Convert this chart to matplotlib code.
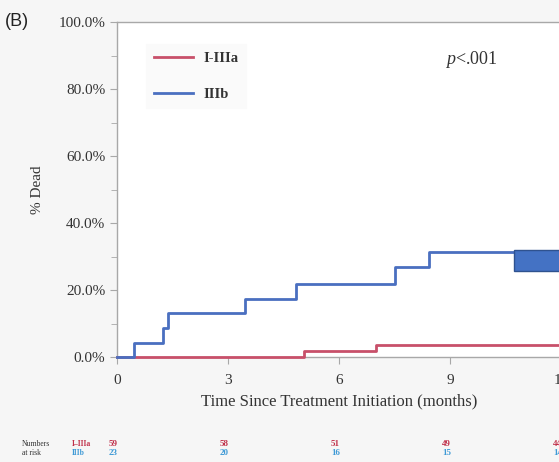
import matplotlib.pyplot as plt
import matplotlib.transforms as mtransforms
from matplotlib.patches import Rectangle
from matplotlib.ticker import MultipleLocator, FuncFormatter

plt.rcParams['font.family'] = ['Liberation Serif', 'DejaVu Serif']
plt.rcParams['mathtext.fontset'] = 'custom'
plt.rcParams['mathtext.it'] = 'Liberation Serif:italic'
plt.rcParams['mathtext.rm'] = 'Liberation Serif'

# Kaplan-Meier steps (months, % dead)
groups = ['I-IIIa', 'IIIb']
red_t = [0, 5.05, 7.0, 12]
red_v = [0, 1.7, 3.5, 3.5]
blue_t = [0, 0.46, 1.24, 1.38, 3.46, 4.84, 7.51, 8.43, 12]
blue_v = [0, 4.3, 8.7, 13.0, 17.4, 21.7, 26.8, 31.2, 31.2]

# numbers at risk
risk_months = [0, 3, 6, 9, 12]
risk_red = [59, 58, 51, 49, 44]
risk_blue = [23, 20, 16, 15, 14]

# the filled box at the right edge
box_x = [10.73, 12.3]
box_y = [25.8, 31.8]

red = '#c8506a'
blue = '#4a6fc0'
grey = '#a8a8a8'
txt = '#333333'

fig = plt.figure(figsize=(5.59, 4.62), dpi=100, facecolor='#f6f6f6')
ax = fig.add_axes([117 / 559, 105 / 462, 444 / 559, 335 / 462])
ax.set_facecolor('white')

ax.step(red_t, red_v, where='post', color=red, lw=2, label=groups[0], zorder=3, clip_on=False)
ax.step(blue_t, blue_v, where='post', color=blue, lw=2, label=groups[1], zorder=3, clip_on=False)
ax.add_patch(Rectangle((box_x[0], box_y[0]), box_x[1] - box_x[0], box_y[1] - box_y[0],
                       facecolor='#4472c4', edgecolor='#2f528f', lw=1, zorder=4))

ax.set_xlim(0, 12)
ax.set_ylim(0, 100)
ax.xaxis.set_major_locator(MultipleLocator(3))
ax.yaxis.set_major_locator(MultipleLocator(20))
ax.yaxis.set_minor_locator(MultipleLocator(10))
ax.yaxis.set_major_formatter(FuncFormatter(lambda v, p: '%.1f%%' % v))
ax.tick_params(axis='both', which='both', direction='out', color=grey, labelcolor=txt, labelsize=11)
ax.tick_params(axis='both', which='major', length=5)
ax.tick_params(axis='x', pad=7)
ax.tick_params(axis='y', which='minor', length=4)
for s in ax.spines.values():
    s.set_color(grey)
    s.set_linewidth(1)

ax.set_xlabel('Time Since Treatment Initiation (months)', fontsize=12, color=txt, labelpad=5)
ax.set_ylabel('% Dead', fontsize=11, color=txt, labelpad=10)

leg = ax.legend(loc='upper left', bbox_to_anchor=(0.05, 0.955), handlelength=2.7,
                labelspacing=1.55, fontsize=10.5, frameon=True, facecolor='#fafafa',
                edgecolor='#fafafa', framealpha=1, borderpad=0.5, handletextpad=0.7)
for t in leg.get_texts():
    t.set_fontweight('bold')
    t.set_color(txt)
leg.get_frame().set_boxstyle('square', pad=0)

ax.text(0.738, 0.887, r'$\mathit{p}$<.001', transform=ax.transAxes, fontsize=13,
        color=txt, va='center', ha='left')

fig.text(5 / 559, 1 - 22 / 462, '(B)', family='Liberation Sans', fontsize=13,
         color='#222222', va='center', ha='left')

# at risk table
tr = mtransforms.blended_transform_factory(ax.transData, fig.transFigure)
y1 = 1 - 444 / 462
y2 = 1 - 453 / 462
fig.text(22 / 559, y1, 'Numbers', fontsize=5.5, color=txt, va='center')
fig.text(22 / 559, y2, 'at risk', fontsize=5.5, color=txt, va='center')
fig.text(72 / 559, y1, 'I\u2013IIIa', fontsize=5.5, color='#c0304a', va='center', weight='bold')
fig.text(72 / 559, y2, 'IIIb', fontsize=5.5, color='#3f9ad6', va='center', weight='bold')
for m, r, b in zip(risk_months, risk_red, risk_blue):
    ax.text(m - 0.1, y1, str(r), transform=tr, fontsize=6.5, color='#c0304a',
            va='center', ha='center', weight='bold')
    ax.text(m - 0.1, y2, str(b), transform=tr, fontsize=6.5, color='#3f9ad6',
            va='center', ha='center', weight='bold')

fig.savefig('out.png', dpi=100, facecolor=fig.get_facecolor())
